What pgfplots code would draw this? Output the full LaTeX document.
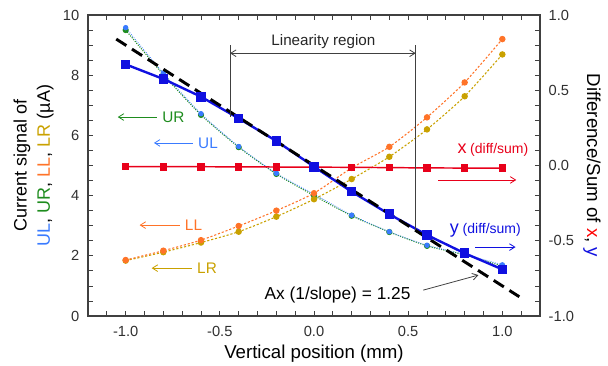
\documentclass[border=0pt]{standalone}
\usepackage{fontspec}
\setmainfont{Liberation Sans}
\usepackage{pgfplots}
\pgfplotsset{compat=1.18}
\usetikzlibrary{arrows.meta}
\definecolor{ULc}{HTML}{3A7BFF}
\definecolor{URc}{HTML}{1E8C1E}
\definecolor{LLc}{HTML}{FF7328}
\definecolor{LRc}{HTML}{C9A100}
\definecolor{xred}{HTML}{E8001A}
\definecolor{yblue}{HTML}{1010E0}
\definecolor{axgray}{HTML}{404040}
\definecolor{ticktext}{HTML}{303030}
\tikzset{arr/.style={-{Straight Barb[length=4pt,width=5pt]}, line width=0.6pt}}
\begin{document}
\begin{tikzpicture}
\pgfplotsset{
  common/.style={
    scale only axis, width=339pt, height=225.75pt,
    xmin=-1.2, xmax=1.2,
    tick align=inside,
    major tick length=3.5pt, minor tick length=3.5pt,
    axis line style={draw=axgray, line width=0.8pt},
    every tick/.style={axgray, line width=0.6pt},
    tick label style={font=\fontsize{11}{13}\selectfont, text=ticktext},
    /pgf/number format/assume math mode=true,
    clip=false,
  },
}
\begin{axis}[common,
  ymin=0, ymax=10,
  xtick={-1,-0.5,0,0.5,1},
  minor xtick={-1.2,-1.1,-0.9,-0.8,-0.7,-0.6,-0.4,-0.3,-0.2,-0.1,0.1,0.2,0.3,0.4,0.6,0.7,0.8,0.9,1.1,1.2},
  ytick={0,2,4,6,8,10},
  minor ytick={0.5,1,1.5,2.5,3,3.5,4.5,5,5.5,6.5,7,7.5,8.5,9,9.5},
  xtick pos=both, ytick pos=left,
  xticklabel style={yshift=-4pt},
  yticklabel style={xshift=-3pt},
  xticklabel={\pgfmathprintnumber[fixed, fixed zerofill, precision=1]{\tick}},
]
% UR (green)
\addplot[URc, densely dotted, line width=0.8pt, smooth, tension=0.4, mark=*, mark size=1.9pt, mark options={solid}]
 coordinates {(-1.0,9.50) (-0.8,8.02) (-0.6,6.68) (-0.4,5.61) (-0.2,4.72) (0,4.00) (0.2,3.33) (0.4,2.79) (0.6,2.33) (0.8,2.03) (1.0,1.66)};
% UL (light blue)
\addplot[ULc, densely dotted, line width=0.6pt, smooth, tension=0.4, mark=*, mark size=1.7pt, mark options={solid}]
 coordinates {(-1.0,9.58) (-0.8,8.07) (-0.6,6.72) (-0.4,5.63) (-0.2,4.74) (0,4.05) (0.2,3.35) (0.4,2.80) (0.6,2.35) (0.8,2.05) (1.0,1.70)};
% LR (gold)
\addplot[LRc, dash pattern=on 1.6pt off 1.4pt, line width=0.8pt, smooth, tension=0.4, mark=*, mark size=2pt, mark options={solid}]
 coordinates {(-1.0,1.84) (-0.8,2.12) (-0.6,2.44) (-0.4,2.80) (-0.2,3.30) (0,3.88) (0.2,4.55) (0.4,5.29) (0.6,6.20) (0.8,7.30) (1.0,8.69)};
% LL (orange)
\addplot[LLc, dash pattern=on 1.6pt off 1.4pt, line width=0.8pt, smooth, tension=0.4, mark=*, mark size=2pt, mark options={solid}]
 coordinates {(-1.0,1.86) (-0.8,2.17) (-0.6,2.52) (-0.4,2.99) (-0.2,3.50) (0,4.08) (0.2,4.92) (0.4,5.62) (0.6,6.60) (0.8,7.76) (1.0,9.20)};
\coordinate (SW) at (rel axis cs:0,0);
\coordinate (NE) at (rel axis cs:1,1);
\coordinate (W) at (rel axis cs:0,0.5);
\coordinate (E) at (rel axis cs:1,0.5);
\coordinate (S) at (rel axis cs:0.5,0);
% annotations (left axis units)
\draw[arr, URc] (axis cs:-0.836,6.61) -- (axis cs:-1.042,6.61);
\node[URc, anchor=west, font=\fontsize{11.5}{13}\selectfont] at (axis cs:-0.83,6.61) {UR};
\draw[arr, ULc] (axis cs:-0.645,5.75) -- (axis cs:-0.85,5.75);
\node[ULc, anchor=west, font=\fontsize{11.5}{13}\selectfont] at (axis cs:-0.64,5.75) {UL};
\draw[arr, LLc] (axis cs:-0.714,3.02) -- (axis cs:-0.926,3.02);
\node[LLc, anchor=west, font=\fontsize{11.5}{13}\selectfont] at (axis cs:-0.71,3.02) {LL};
\draw[arr, LRc] (axis cs:-0.65,1.59) -- (axis cs:-0.862,1.59);
\node[LRc, anchor=west, font=\fontsize{11.5}{13}\selectfont] at (axis cs:-0.645,1.59) {LR};
\end{axis}
\begin{axis}[common,
  ymin=-1, ymax=1,
  hide x axis,
  axis y line*=right,
  ytick={-1,-0.5,0,0.5,1},
  minor ytick={-0.9,-0.8,-0.7,-0.6,-0.4,-0.3,-0.2,-0.1,0.1,0.2,0.3,0.4,0.6,0.7,0.8,0.9},
  yticklabel style={xshift=3pt},
  yticklabel={\pgfmathprintnumber[fixed, fixed zerofill, precision=1]{\tick}},
]
% x (diff/sum)
\addplot[xred, line width=1.1pt, mark=square*, mark size=2.3pt]
 coordinates {(-1.0,-0.007) (-0.8,-0.008) (-0.6,-0.008) (-0.4,-0.009) (-0.2,-0.010) (0,-0.011) (0.2,-0.012) (0.4,-0.014) (0.6,-0.016) (0.8,-0.017) (1.0,-0.018)};
% y (diff/sum)
\addplot[yblue, line width=1.8pt, mark=square*, mark size=2.7pt]
 coordinates {(-1.0,0.672) (-0.8,0.575) (-0.6,0.457) (-0.4,0.313) (-0.2,0.163) (0,-0.008) (0.2,-0.174) (0.4,-0.324) (0.6,-0.462) (0.8,-0.583) (1.0,-0.690)};
% linear fit
\addplot[black, line width=2.2pt, dash pattern=on 9pt off 5pt]
 coordinates {(-1.05,0.84) (1.09,-0.872)};
% linearity region (right axis units)
\draw[axgray, line width=0.7pt] (axis cs:-0.446,0.80) -- (axis cs:-0.446,0.322);
\draw[axgray, line width=0.7pt] (axis cs:0.54,0.80) -- (axis cs:0.54,-0.428);
\draw[{Straight Barb[length=4pt,width=5pt]}-{Straight Barb[length=4pt,width=5pt]}, axgray, line width=0.6pt] (axis cs:-0.446,0.746) -- (axis cs:0.54,0.746);
\node[font=\fontsize{11.4}{13}\selectfont, text=black!85] at (axis cs:0.05,0.822) {Linearity region};
% x and y labels with arrows
\node[xred] at (axis cs:0.95,0.102) {{\fontsize{13.5}{15}\selectfont x} {\fontsize{10.5}{12}\selectfont (diff/sum)}};
\draw[arr, xred] (axis cs:0.66,-0.096) -- (axis cs:1.074,-0.096);
\node[yblue] at (axis cs:0.91,-0.428) {{\fontsize{13.5}{15}\selectfont y} {\fontsize{10.5}{12}\selectfont (diff/sum)}};
\draw[arr, yblue] (axis cs:0.857,-0.542) -- (axis cs:1.07,-0.542);
\node[font=\fontsize{13}{15}\selectfont] at (axis cs:0.125,-0.86) {Ax (1/slope) = 1.25};
\draw[arr, axgray] (axis cs:0.58,-0.828) -- (axis cs:0.873,-0.728);
\end{axis}
% axis labels
\node[rotate=90, font=\fontsize{13.5}{15}\selectfont] at ([xshift=-49.5pt]W) {Current signal of};
\node[rotate=90, font=\fontsize{13.5}{15}\selectfont] at ([xshift=-32pt]W) {\textcolor{ULc}{UL}, \textcolor{URc}{UR}, \textcolor{LLc}{LL}, \textcolor{LRc}{LR} (µA)};
\node[rotate=-90, font=\fontsize{14}{16}\selectfont] at ([xshift=39pt]E) {Difference/Sum of \textcolor{red}{x}, \textcolor{yblue}{y}};
\node[font=\fontsize{14}{16}\selectfont] at ([yshift=-28pt]S) {Vertical position (mm)};
\pgfresetboundingbox
\path ([xshift=-66pt,yshift=-36.75pt]SW) rectangle ([xshift=51pt,yshift=11.25pt]NE);
\end{tikzpicture}
\end{document}
